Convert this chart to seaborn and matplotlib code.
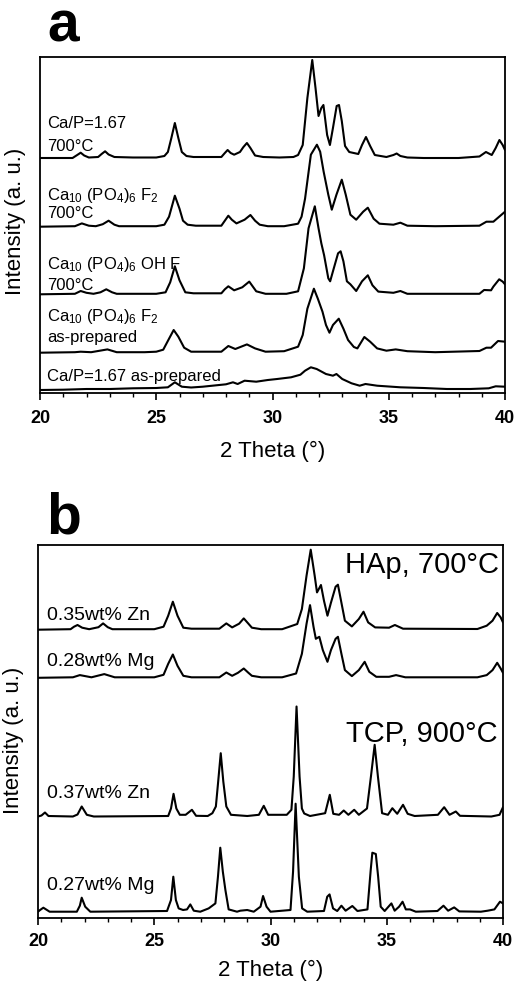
import numpy as np
import pandas as pd
import matplotlib
matplotlib.use("Agg")
import matplotlib.pyplot as plt
from matplotlib.ticker import MultipleLocator
import seaborn as sns

# ---- panel a: fluorapatite / HAp series (2 theta, intensity above own baseline)
capp700_theta = [20.0, 21.4, 21.6, 21.75, 21.9, 22.1, 22.5, 22.65, 22.8, 22.95, 23.2, 24.0, 25.0, 25.35, 25.5, 25.65, 25.8, 25.95, 26.1, 26.3, 26.6, 27.8, 27.95, 28.07, 28.2, 28.35, 28.6, 28.75, 28.9, 29.05, 29.25, 29.6, 30.3, 30.9, 31.1, 31.3, 31.5, 31.71, 31.85, 31.98, 32.1, 32.19, 32.35, 32.47, 32.6, 32.76, 32.86, 32.98, 33.12, 33.3, 33.69, 33.85, 34.02, 34.2, 34.4, 34.9, 35.2, 35.34, 35.5, 35.8, 36.5, 38.0, 38.9, 39.18, 39.43, 39.6, 39.76, 39.9, 40.0]
capp700_int = [0, 0, 3, 5.3, 2.5, 0.5, 1, 4, 6.7, 3.5, 1, 0.5, 0.5, 2, 6, 20, 35, 20, 6, 2, 1, 1, 5, 8, 5, 3.3, 6, 11, 15, 10, 2.5, 1, 0.5, 1, 3, 13, 60, 98, 70, 42, 50, 53, 23, 13, 30, 52, 53, 37, 12, 6, 4, 13, 21, 12, 3, 1, 3, 4.5, 2, 0.5, 0, 0, 1.5, 6, 3, 10, 18, 13, 8]

f2_700_theta = [20.0, 21.5, 21.8, 22.1, 22.4, 22.7, 22.95, 23.2, 23.4, 25.0, 25.35, 25.55, 25.8, 26.0, 26.15, 26.35, 26.7, 27.8, 27.95, 28.1, 28.25, 28.45, 28.8, 29.05, 29.25, 29.45, 29.8, 30.5, 31.1, 31.25, 31.4, 31.65, 31.91, 32.05, 32.2, 32.4, 32.55, 32.75, 32.98, 33.15, 33.35, 33.6, 33.9, 34.1, 34.35, 34.6, 35.2, 35.5, 35.8, 37.0, 38.9, 39.2, 39.5, 39.75, 40.0]
f2_700_int = [0, 0.5, 3.3, 1, 0.5, 2.5, 6, 2, 0.5, 0.5, 2, 10, 31, 18, 6, 2, 1, 1, 6, 11, 7, 3.3, 7, 11.7, 6, 2, 0.5, 0.5, 3, 10, 28, 72, 82, 75, 55, 32, 17, 32, 47, 32, 12, 7, 15, 19, 8, 3, 2, 4, 1, 0.5, 1, 5, 5, 10, 15]

ohf_700_theta = [20.0, 21.5, 21.75, 22.0, 22.3, 22.6, 22.85, 23.1, 23.3, 25.0, 25.4, 25.6, 25.8, 26.0, 26.25, 26.6, 27.8, 27.95, 28.1, 28.35, 28.7, 29.0, 29.3, 29.7, 30.6, 31.1, 31.35, 31.55, 31.82, 31.98, 32.1, 32.22, 32.4, 32.48, 32.6, 32.82, 32.93, 33.05, 33.2, 33.35, 33.6, 33.85, 34.1, 34.3, 34.55, 35.2, 35.5, 35.8, 38.9, 39.1, 39.4, 39.5, 39.75, 39.9, 40.0]
ohf_700_int = [0, 0.5, 3.3, 1.5, 0.5, 2, 5, 2, 0.5, 0.5, 2, 12, 28, 14, 2, 1, 1, 5, 8, 4, 7, 12.7, 3, 0.5, 0.5, 3, 26, 66, 88, 66, 51, 39, 16, 13, 23, 41, 43, 33, 13, 10, 3.3, 13, 19, 9, 2.7, 1.5, 3.3, 0.5, 0.5, 4.3, 4, 7.7, 15, 12.7, 10]

f2_asp_theta = [20.0, 21.5, 21.75, 22.2, 22.9, 23.3, 24.5, 25.0, 25.3, 25.55, 25.75, 25.95, 26.2, 26.5, 27.8, 28.1, 28.4, 28.9, 29.25, 29.7, 30.5, 31.1, 31.3, 31.5, 31.78, 31.95, 32.15, 32.3, 32.45, 32.6, 32.85, 33.05, 33.25, 33.5, 33.65, 33.95, 34.2, 34.5, 34.9, 35.3, 35.8, 37.0, 38.9, 39.2, 39.4, 39.7, 40.0]
f2_asp_int = [0, 0.5, 1, 0.5, 3.3, 0.5, 0.5, 1, 3, 14, 22.7, 16, 5, 1, 1, 6.7, 3.7, 8.3, 4.3, 1, 1.5, 6, 17.7, 44, 64, 54, 41, 27.7, 20, 27.7, 34, 24, 12.7, 5.7, 4.3, 15.7, 11, 4.3, 2, 3.3, 1.5, 0.5, 1.7, 5, 5, 11.7, 11]

capp_asp_theta = [20.0, 21.0, 22.0, 23.0, 24.0, 25.0, 25.5, 25.8, 26.1, 26.5, 27.0, 28.0, 28.3, 28.5, 28.8, 29.3, 29.8, 30.2, 30.8, 31.2, 31.4, 31.65, 31.9, 32.3, 32.6, 32.75, 33.0, 33.4, 33.75, 34.0, 34.5, 35.5, 36.5, 37.5, 38.5, 39.3, 39.6, 40.0]
capp_asp_int = [0, 0.3, 1, 1, 1.7, 2, 2.7, 7.7, 3.3, 2.5, 3.3, 5.7, 7.7, 6, 9.3, 8.3, 10, 11, 12.7, 15.3, 19.3, 22.7, 21, 16, 14.3, 16, 11, 6.7, 4.3, 6, 4.3, 2.7, 2, 1, 1, 1.7, 3.7, 3.3]

a_baselines = [235, 166.3, 98.7, 40.3, 3]

# ---- panel b: substituted HAp (700 C) and TCP (900 C)
zn035_theta = [20.0, 21.4, 21.55, 21.7, 21.9, 22.2, 22.6, 22.8, 23.0, 23.2, 25.0, 25.4, 25.6, 25.8, 26.0, 26.25, 26.6, 27.8, 28.1, 28.35, 28.65, 28.85, 29.05, 29.2, 29.6, 30.5, 31.15, 31.35, 31.55, 31.73, 31.9, 32.0, 32.17, 32.3, 32.45, 32.6, 32.8, 32.9, 33.05, 33.2, 33.5, 33.8, 34.0, 34.2, 34.5, 35.1, 35.35, 35.7, 38.9, 39.3, 39.55, 39.75, 39.9, 40.0]
zn035_int = [0, 0.5, 3, 4.7, 2, 0.5, 2.5, 6.3, 2.5, 0.5, 0.5, 3, 14, 28, 14, 2, 1, 1, 6.3, 2.3, 6, 11.3, 6, 2, 0.5, 0.5, 5.7, 20.7, 54, 80, 54, 37.3, 44.7, 29, 14, 27, 43, 45, 27, 9, 3.3, 10.7, 18, 7.3, 2.3, 2, 4.7, 1, 0.7, 4, 9, 16.7, 12.3, 7.3]

mg028_theta = [20.0, 21.5, 21.8, 22.3, 22.85, 23.3, 25.0, 25.4, 25.6, 25.8, 26.0, 26.25, 26.6, 27.8, 28.1, 28.35, 28.6, 28.85, 29.05, 29.2, 29.6, 30.5, 31.1, 31.35, 31.55, 31.7, 31.85, 31.95, 32.1, 32.25, 32.45, 32.6, 32.8, 32.9, 33.05, 33.2, 33.5, 33.8, 34.05, 34.25, 34.55, 35.1, 35.4, 35.8, 38.9, 39.3, 39.55, 39.75, 39.9, 40.0]
mg028_int = [0, 0.5, 2.7, 0.5, 3.7, 0.5, 0.5, 3, 14, 23.3, 12, 2, 0.5, 0.5, 5.3, 2, 5, 9.3, 5, 2, 0.5, 0.5, 4.3, 24, 54, 72.7, 51, 39, 41, 27.7, 16, 27.7, 39, 41, 24, 7.7, 1.7, 7.7, 16, 6, 1, 1, 2.7, 0.5, 0.5, 2.7, 7.7, 15, 9.3, 5]

zn037_theta = [20.0, 20.15, 20.3, 20.45, 21.5, 21.7, 21.88, 22.1, 22.4, 25.6, 25.72, 25.83, 25.95, 26.1, 26.35, 26.62, 26.8, 27.3, 27.5, 27.65, 27.75, 27.86, 27.97, 28.1, 28.3, 29.0, 29.5, 29.71, 29.9, 30.7, 30.9, 31.0, 31.12, 31.25, 31.35, 31.45, 31.7, 32.35, 32.55, 32.7, 32.95, 33.15, 33.35, 33.6, 33.8, 34.15, 34.32, 34.48, 34.62, 34.8, 35.05, 35.24, 35.45, 35.7, 35.9, 36.2, 37.2, 37.47, 37.7, 37.97, 38.15, 39.5, 39.85, 40.0]
zn037_int = [0, 1, 4, 0.5, 0, 2, 10, 1.7, 0, 0.5, 8, 22.7, 8, 1.7, 1.7, 6.7, 0.7, 0.5, 3.3, 10, 35, 63.3, 35, 10, 1.7, 0.5, 1.7, 10.7, 1.7, 1.7, 6.7, 40, 110, 40, 8, 3, 0.5, 3.3, 21.7, 2.7, 1.7, 6, 1.7, 6.7, 1.7, 8, 40, 71.7, 40, 3.3, 1.7, 8.3, 2.7, 11.7, 2.7, 0.5, 1.7, 9.3, 1.7, 5, 0.7, 0, 1.7, 9.3]

mg027_theta = [20.0, 20.09, 20.23, 20.5, 21.67, 21.8, 21.88, 22.03, 22.25, 25.55, 25.72, 25.82, 25.93, 26.05, 26.24, 26.41, 26.55, 26.7, 26.98, 27.34, 27.63, 27.74, 27.84, 27.95, 28.06, 28.2, 28.56, 28.7, 29.0, 29.28, 29.57, 29.68, 29.83, 30.0, 30.86, 30.97, 31.08, 31.22, 31.36, 31.58, 32.3, 32.44, 32.54, 32.69, 32.87, 33.05, 33.23, 33.52, 33.74, 34.17, 34.31, 34.38, 34.53, 34.63, 34.74, 34.91, 35.1, 35.2, 35.34, 35.53, 35.68, 35.82, 36.0, 36.25, 37.18, 37.44, 37.64, 37.9, 38.12, 39.05, 39.34, 39.63, 39.87, 40.0]
mg027_int = [0, 1.7, 4, 0, 0, 6, 14, 5, 0, 0.7, 11.7, 35, 11.7, 3.3, 1.7, 2.3, 7.3, 1, 0, 3.3, 8.3, 35, 64, 40, 21.7, 2.3, 0, 1, 1.7, 0, 5, 15.7, 5, 0, 1.7, 40, 108, 35, 3.3, 0, 0.7, 15, 17.3, 3.3, 0.7, 6, 1, 5.7, 0.7, 2.3, 41.7, 59, 57.7, 35, 5, 0.7, 5.7, 8.3, 1, 5, 10, 2.3, 2.3, 0, 0.7, 6, 1, 4.3, 0.3, 0, 1, 2.3, 10, 8.3]

b_baselines = [288.3, 240.2, 101.5, 6.3]

sns.set_theme(style="white")
plt.rcParams["font.family"] = ["Liberation Sans", "DejaVu Sans"]
plt.rcParams["mathtext.fontset"] = "custom"
plt.rcParams["mathtext.rm"] = "Liberation Sans"
plt.rcParams["mathtext.it"] = "Liberation Sans:italic"
plt.rcParams["mathtext.bf"] = "Liberation Sans:bold"
plt.rcParams["text.color"] = "black"
plt.rcParams["axes.labelcolor"] = "black"
plt.rcParams["xtick.color"] = "black"
plt.rcParams["axes.edgecolor"] = "black"

fig = plt.figure(figsize=(5.14, 9.86), dpi=100)
ax_a = fig.add_axes([40 / 514, 593 / 986, 465 / 514, 336 / 986])
ax_b = fig.add_axes([38 / 514, 68 / 986, 465 / 514, 373 / 986])


def draw_curves(ax, curves, baselines):
    for (theta, inten), base in zip(curves, baselines):
        df = pd.DataFrame({"theta": theta, "y": np.array(inten) + base})
        sns.lineplot(data=df, x="theta", y="y", ax=ax, color="black",
                     lw=1.5, estimator=None, sort=False)


def style_axes(ax, ymax, pad):
    ax.set_xlim(20, 40)
    ax.set_ylim(0, ymax)
    ax.set_yticks([])
    ax.set_xticks([20, 25, 30, 35, 40])
    ax.xaxis.set_minor_locator(MultipleLocator(1))
    ax.tick_params(axis="x", which="major", direction="out", length=5,
                   width=1.2, labelsize=13, pad=pad, color="black",
                   labelcolor="black", bottom=True)
    ax.tick_params(axis="x", which="minor", direction="out", length=3,
                   width=1.0, color="black", bottom=True)
    for lbl in ax.get_xticklabels():
        lbl.set_fontweight("bold")
    for sp in ax.spines.values():
        sp.set_visible(True)
        sp.set_color("black")
        sp.set_linewidth(1.3)
    ax.set_xlabel("2 Theta (°)", fontsize=16, color="black")
    ax.set_ylabel("Intensity (a. u.)", fontsize=16, color="black")


draw_curves(ax_a, [(capp700_theta, capp700_int), (f2_700_theta, f2_700_int),
                   (ohf_700_theta, ohf_700_int), (f2_asp_theta, f2_asp_int),
                   (capp_asp_theta, capp_asp_int)], a_baselines)
style_axes(ax_a, 336, 7.5)
ax_a.xaxis.set_label_coords(0.5, -0.143)
ax_a.yaxis.set_label_coords(-0.03, 0.512)

draw_curves(ax_b, [(zn035_theta, zn035_int), (mg028_theta, mg028_int),
                   (zn037_theta, zn037_int), (mg027_theta, mg027_int)], b_baselines)
style_axes(ax_b, 373, 5.5)
ax_b.xaxis.set_label_coords(0.5, -0.1126)
ax_b.yaxis.set_label_coords(-0.03, 0.475)

fa = 12
ax_a.text(20.3, 265, "Ca/P=1.67", fontsize=fa, va="baseline")
ax_a.text(20.3, 242, "700°C", fontsize=fa, va="baseline")
ax_a.text(20.3, 193, r"Ca$_{10}$ (PO$_4$)$_6$ F$_2$", fontsize=fa, va="baseline")
ax_a.text(20.3, 175, "700°C", fontsize=fa, va="baseline")
ax_a.text(20.3, 124, r"Ca$_{10}$ (PO$_4$)$_6$ OH F", fontsize=fa, va="baseline")
ax_a.text(20.3, 103, "700°C", fontsize=fa, va="baseline")
ax_a.text(20.3, 72, r"Ca$_{10}$ (PO$_4$)$_6$ F$_2$", fontsize=fa, va="baseline")
ax_a.text(20.3, 51, "as-prepared", fontsize=fa, va="baseline")
ax_a.text(20.3, 12, "Ca/P=1.67 as-prepared", fontsize=fa, va="baseline")

fb = 14
ax_b.text(20.39, 298, "0.35wt% Zn", fontsize=fb, va="baseline")
ax_b.text(20.39, 252, "0.28wt% Mg", fontsize=fb, va="baseline")
ax_b.text(20.39, 120, "0.37wt% Zn", fontsize=fb, va="baseline")
ax_b.text(20.39, 28, "0.27wt% Mg", fontsize=fb, va="baseline")
ax_b.text(39.83, 345, "HAp, 700°C", fontsize=21, va="baseline", ha="right")
ax_b.text(39.78, 176, "TCP, 900°C", fontsize=21, va="baseline", ha="right")

fig.text(47 / 514, 1 - 42 / 986, "a", fontsize=41, fontweight="bold", va="baseline")
fig.text(46 / 514, 1 - 533 / 986, "b", fontsize=41, fontweight="bold", va="baseline")

fig.savefig("out.png", dpi=100)
